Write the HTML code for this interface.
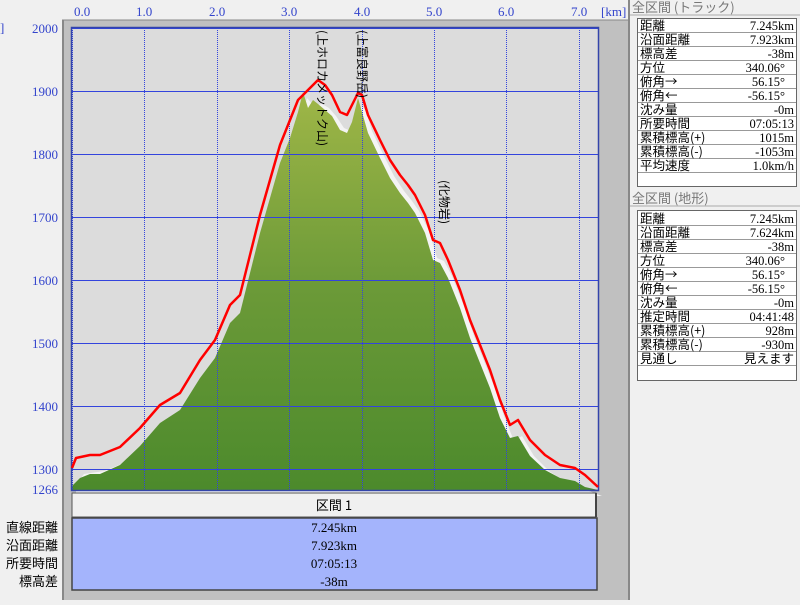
<!DOCTYPE html>
<html><head><meta charset="utf-8"><style>
body{margin:0;width:800px;height:600px;overflow:hidden;background:#f0f0f0;font-family:"Liberation Serif","Noto Serif CJK SC","Noto Sans CJK JP",serif;}
</style></head><body>
<svg width="800" height="600" xmlns="http://www.w3.org/2000/svg" font-family="Liberation Serif, Noto Sans CJK JP, sans-serif">
<defs>
<linearGradient id="g" x1="0" y1="80" x2="0" y2="490" gradientUnits="userSpaceOnUse">
<stop offset="0" stop-color="#a2b848"/><stop offset="0.5" stop-color="#6c9a38"/><stop offset="1" stop-color="#4c8a2c"/></linearGradient>
</defs>
<rect x="0" y="0" width="800" height="600" fill="#f0f0f0"/>
<rect x="62" y="20" width="566" height="580" fill="#c0c0c0"/>
<line x1="63" y1="20" x2="63" y2="600" stroke="#888" stroke-width="2"/>
<line x1="62" y1="20" x2="628" y2="20" stroke="#888" stroke-width="1"/>
<line x1="629" y1="0" x2="629" y2="600" stroke="#888" stroke-width="2"/>
<rect x="72" y="28" width="526" height="462" fill="#dcdcdc"/>
<!-- shadow -->
<path transform="translate(4,6)" fill="#f4f4f4" d="M72,490 L72,478 L80,468 L100,465 L120,457 L140,438 L160,415 L180,403 L200,370 L215,350 L230,315 L240,305 L250,265 L260,225 L270,190 L280,155 L290,130 L298,110 L303,92 L310,100 L318,98 L325,102 L332,110 L340,122 L347,125 L352,115 L358,100 L362,105 L368,125 L380,150 L390,170 L400,185 L408,195 L415,205 L425,225 L433,252 L440,255 L448,270 L460,300 L470,330 L480,355 L490,380 L500,410 L510,435 L518,430 L530,450 L545,465 L560,475 L575,478 L585,485 L598,490 Z"/>
<path fill="url(#g)" d="M72,490 L72,486 L80,478 L90,474 L100,474 L120,465 L140,446 L160,423 L180,410 L200,378 L215,358 L230,323 L240,313 L250,273 L260,233 L270,198 L280,163 L290,138 L298,112 L303,92 L308,108 L313,100 L318,104 L325,110 L332,116 L340,130 L347,133 L352,122 L358,98 L362,112 L368,133 L380,158 L390,178 L400,193 L408,203 L415,213 L425,233 L433,260 L440,263 L448,278 L460,308 L470,338 L480,363 L490,388 L500,418 L510,438 L518,436 L530,456 L545,470 L560,478 L575,481 L585,487 L598,490 Z"/>
<!-- grid -->
<g stroke="#3344dd" stroke-width="1">
<line x1="72" y1="28.5" x2="598" y2="28.5"/><line x1="72" y1="91.5" x2="598" y2="91.5"/><line x1="72" y1="154.5" x2="598" y2="154.5"/><line x1="72" y1="217.5" x2="598" y2="217.5"/><line x1="72" y1="280.5" x2="598" y2="280.5"/><line x1="72" y1="343.5" x2="598" y2="343.5"/><line x1="72" y1="406.5" x2="598" y2="406.5"/><line x1="72" y1="469.5" x2="598" y2="469.5"/>
</g>
<g stroke="#3344dd" stroke-width="1" stroke-dasharray="1,1">
<line x1="72.5" y1="28" x2="72.5" y2="490"/><line x1="144.5" y1="28" x2="144.5" y2="490"/><line x1="217.5" y1="28" x2="217.5" y2="490"/><line x1="289.5" y1="28" x2="289.5" y2="490"/><line x1="362.5" y1="28" x2="362.5" y2="490"/><line x1="434.5" y1="28" x2="434.5" y2="490"/><line x1="506.5" y1="28" x2="506.5" y2="490"/><line x1="579.5" y1="28" x2="579.5" y2="490"/>
</g>
<rect x="71.5" y="27.5" width="527" height="463" fill="none" stroke="#3344aa" stroke-width="1.5"/>
<path fill="none" stroke="#ff0000" stroke-width="2.5" stroke-linejoin="round" d="M72,468 L76,458 L90,455 L100,455 L120,447 L140,428 L160,405 L180,393 L200,360 L215,340 L230,305 L240,295 L250,255 L260,215 L270,180 L280,145 L290,120 L298,100 L303,95 L310,88 L318,80 L325,85 L332,95 L340,112 L347,115 L352,105 L358,93 L362,95 L368,115 L380,140 L390,160 L400,175 L408,185 L415,195 L425,215 L433,240 L440,243 L448,260 L460,290 L470,320 L480,345 L490,370 L500,400 L510,425 L518,420 L530,440 L545,455 L560,465 L575,468 L585,475 L598,487"/>
<g font-size="12" fill="#000" font-family="Noto Sans CJK JP, sans-serif">
<text transform="translate(318,30) rotate(90)">(上ホロカメットク山)</text>
<text transform="translate(358,30) rotate(90)">(上富良野岳)</text>
<text transform="translate(440,180) rotate(90)">(化物岩)</text>
</g>
<g font-size="13" fill="#3344cc" font-family="Liberation Serif, serif">
<text x="74" y="16">0.0</text><text x="136" y="16">1.0</text><text x="209" y="16">2.0</text><text x="281" y="16">3.0</text><text x="354" y="16">4.0</text><text x="426" y="16">5.0</text><text x="498" y="16">6.0</text><text x="571" y="16">7.0</text><text x="601" y="16">[km]</text>
<text x="0" y="32">]</text>
<g text-anchor="end"><text x="58" y="33">2000</text><text x="58" y="96">1900</text><text x="58" y="159">1800</text><text x="58" y="222">1700</text><text x="58" y="285">1600</text><text x="58" y="348">1500</text><text x="58" y="411">1400</text><text x="58" y="474">1300</text><text x="58" y="494">1266</text></g>
</g>
<!-- bottom table -->
<rect x="72" y="493" width="524" height="24" fill="#f0f0f0" stroke="#555" stroke-width="1"/>
<line x1="596" y1="493" x2="596" y2="517" stroke="#444" stroke-width="2"/>
<text x="334" y="510" font-size="13" text-anchor="middle" font-family="Noto Sans CJK JP, sans-serif">区間 1</text>
<rect x="72" y="518" width="525" height="72" fill="#a4b4fc" stroke="#444" stroke-width="1.5"/>
<g font-size="13" text-anchor="middle"><text x="334" y="532">7.245km</text><text x="334" y="550">7.923km</text><text x="334" y="568">07:05:13</text><text x="334" y="586">-38m</text></g>
<g font-size="13" text-anchor="end" font-family="Noto Sans CJK JP, sans-serif"><text x="58" y="532">直線距離</text><text x="58" y="550">沿面距離</text><text x="58" y="568">所要時間</text><text x="58" y="586">標高差</text></g>
<!-- right panel -->
<g font-size="13" font-family="Noto Sans CJK JP, sans-serif">
<text x="632" y="12" fill="#777">全区間 (トラック)</text>
<line x1="630" y1="15" x2="800" y2="15" stroke="#aaa"/>
<text x="632" y="203" fill="#777">全区間 (地形)</text>
<line x1="630" y1="206" x2="800" y2="206" stroke="#aaa"/>
</g>
<g id="t1">
<rect x="637.5" y="18.5" width="159" height="168" fill="#fff" stroke="#666"/>
</g>
<rect x="637.5" y="210.5" width="159" height="170" fill="#fff" stroke="#666"/>
<g stroke="#999">
<line x1="638" y1="32.5" x2="796" y2="32.5"/><line x1="638" y1="46.5" x2="796" y2="46.5"/><line x1="638" y1="60.5" x2="796" y2="60.5"/><line x1="638" y1="74.5" x2="796" y2="74.5"/><line x1="638" y1="88.5" x2="796" y2="88.5"/><line x1="638" y1="102.5" x2="796" y2="102.5"/><line x1="638" y1="116.5" x2="796" y2="116.5"/><line x1="638" y1="130.5" x2="796" y2="130.5"/><line x1="638" y1="144.5" x2="796" y2="144.5"/><line x1="638" y1="158.5" x2="796" y2="158.5"/><line x1="638" y1="172.5" x2="796" y2="172.5"/>
<line x1="638" y1="225.5" x2="796" y2="225.5"/><line x1="638" y1="239.5" x2="796" y2="239.5"/><line x1="638" y1="253.5" x2="796" y2="253.5"/><line x1="638" y1="267.5" x2="796" y2="267.5"/><line x1="638" y1="281.5" x2="796" y2="281.5"/><line x1="638" y1="295.5" x2="796" y2="295.5"/><line x1="638" y1="309.5" x2="796" y2="309.5"/><line x1="638" y1="323.5" x2="796" y2="323.5"/><line x1="638" y1="337.5" x2="796" y2="337.5"/><line x1="638" y1="351.5" x2="796" y2="351.5"/><line x1="638" y1="365.5" x2="796" y2="365.5"/>
</g>
<g font-size="12.5" font-family="Noto Sans CJK JP, sans-serif">
<text x="640" y="30">距離</text><text x="640" y="44">沿面距離</text><text x="640" y="58">標高差</text><text x="640" y="72">方位</text><text x="640" y="86">俯角→</text><text x="640" y="100">俯角←</text><text x="640" y="114">沈み量</text><text x="640" y="128">所要時間</text><text x="640" y="142">累積標高(+)</text><text x="640" y="156">累積標高(-)</text><text x="640" y="170">平均速度</text>
<text x="640" y="223">距離</text><text x="640" y="237">沿面距離</text><text x="640" y="251">標高差</text><text x="640" y="265">方位</text><text x="640" y="279">俯角→</text><text x="640" y="293">俯角←</text><text x="640" y="307">沈み量</text><text x="640" y="321">推定時間</text><text x="640" y="335">累積標高(+)</text><text x="640" y="349">累積標高(-)</text><text x="640" y="363">見通し</text>
</g>
<g font-size="12.5" text-anchor="end">
<text x="794" y="30">7.245km</text><text x="794" y="44">7.923km</text><text x="794" y="58">-38m</text><text x="785" y="72">340.06°</text><text x="785" y="86">56.15°</text><text x="785" y="100">-56.15°</text><text x="794" y="114">-0m</text><text x="794" y="128">07:05:13</text><text x="794" y="142">1015m</text><text x="794" y="156">-1053m</text><text x="794" y="170">1.0km/h</text>
<text x="794" y="223">7.245km</text><text x="794" y="237">7.624km</text><text x="794" y="251">-38m</text><text x="785" y="265">340.06°</text><text x="785" y="279">56.15°</text><text x="785" y="293">-56.15°</text><text x="794" y="307">-0m</text><text x="794" y="321">04:41:48</text><text x="794" y="335">928m</text><text x="794" y="349">-930m</text><text x="794" y="363" font-family="Noto Sans CJK JP, sans-serif">見えます</text>
</g>
</svg>
</body></html>
